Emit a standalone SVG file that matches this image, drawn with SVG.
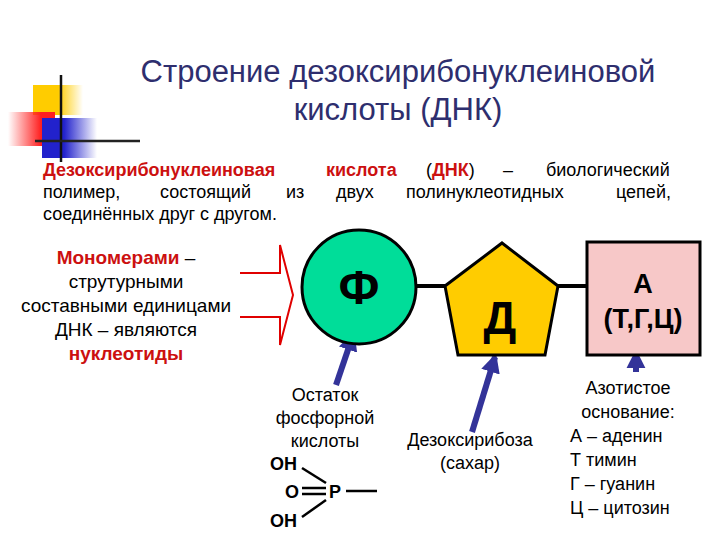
<svg xmlns="http://www.w3.org/2000/svg" width="720" height="540" viewBox="0 0 720 540">
<style>
text{font-family:"Liberation Sans",Arial,sans-serif;fill:#000}
.t{font-size:31px;fill:#2e2e6e}
.p{font-size:18px}
.m{font-size:19px}
.r{fill:#cc1010;font-weight:bold}
.lbl{font-size:18px}
.big{font-weight:bold}
.ln{stroke:#000;stroke-width:4}
.ar{stroke:#333399;stroke-width:6}
</style>
<defs>
<linearGradient id="gy" x1="0" x2="1"><stop offset="0.5" stop-color="#ffcc00"/><stop offset="1" stop-color="#ffcc00" stop-opacity="0"/></linearGradient>
<linearGradient id="gr" x1="1" x2="0"><stop offset="0.3" stop-color="#ff2020"/><stop offset="1" stop-color="#ff2020" stop-opacity="0"/></linearGradient>
<linearGradient id="gb" x1="0" x2="1"><stop offset="0.4" stop-color="#2222cc"/><stop offset="1" stop-color="#2222cc" stop-opacity="0"/></linearGradient>
<marker id="ah" viewBox="0 0 10 10" refX="8" refY="5" markerWidth="3.2" markerHeight="3.2" orient="auto" markerUnits="strokeWidth"><path d="M0,0 L10,5 L0,10 z" fill="#333399"/></marker>
</defs>
<g id="deco">
<rect x="33" y="85" width="50" height="30" fill="url(#gy)"/>
<rect x="8" y="112" width="47" height="34" fill="url(#gr)"/>
<rect x="42" y="118" width="55" height="40" fill="url(#gb)"/>
<line x1="61" y1="75" x2="61" y2="162" stroke="#111" stroke-width="2.5"/>
<line x1="35" y1="141" x2="140" y2="141" stroke="#222" stroke-width="2.5"/>
</g>
<g id="title">
<text class="t" x="398" y="82" text-anchor="middle">Строение дезоксирибонуклеиновой</text>
<text class="t" x="398" y="120" text-anchor="middle">кислоты (ДНК)</text>
</g>
<g id="para" class="p">
<text x="43" y="176"><tspan class="r">Дезоксирибонуклеиновая</tspan><tspan x="326" class="r">кислота</tspan><tspan x="426">(</tspan><tspan class="r">ДНК</tspan><tspan>)</tspan><tspan x="503">–</tspan><tspan x="546">биологический</tspan></text>
<text x="43" y="198">полимер,<tspan x="160">состоящий</tspan><tspan x="286">из</tspan><tspan x="336">двух</tspan><tspan x="406">полинуклеотидных</tspan><tspan x="616">цепей,</tspan></text>
<text x="43" y="220">соединённых друг с другом.</text>
</g>
<g id="monomers" class="m" text-anchor="middle">
<text x="126" y="264"><tspan class="r">Мономерами</tspan> –</text>
<text x="126" y="288">струтурными</text>
<text x="126" y="312">составными единицами</text>
<text x="126" y="336">ДНК – являются</text>
<text x="126" y="360" class="r">нуклеотиды</text>
</g>
<g id="bigarrow">
<path d="M240,273 H280 V245 L293,295 L280,345 V317 H240" fill="#fff" stroke="#e00000" stroke-width="2"/>
</g>
<g id="connectors">
<line class="ln" x1="414" y1="286" x2="447" y2="286"/>
<line class="ln" x1="556" y1="286" x2="589" y2="286"/>
<line class="ar" x1="336" y1="385" x2="353" y2="335" marker-end="url(#ah)"/>
<line class="ar" x1="472" y1="432" x2="495" y2="357" marker-end="url(#ah)"/>
<line class="ar" x1="636" y1="372" x2="636" y2="353" marker-end="url(#ah)"/>
</g>
<g id="phosphate">
<circle cx="359" cy="287" r="57" fill="#00dd99" stroke="#000" stroke-width="3"/>
<text x="359" y="304" font-size="48" class="big" text-anchor="middle">Ф</text>
</g>
<g id="sugar">
<polygon points="502,243 558,286 545,355 458,355 445,286" fill="#ffcc00" stroke="#000" stroke-width="3"/>
<text x="500" y="334" font-size="46" class="big" text-anchor="middle">Д</text>
</g>
<g id="base">
<rect x="587" y="242" width="113" height="113" fill="#f7c8c8" stroke="#000" stroke-width="3"/>
<text x="643" y="293" font-size="27" class="big" text-anchor="middle">А</text>
<text x="643" y="328" font-size="27" class="big" text-anchor="middle">(Т,Г,Ц)</text>
</g>
<g id="labels" class="lbl">
<text x="325" y="401" text-anchor="middle">Остаток</text>
<text x="325" y="424" text-anchor="middle">фосфорной</text>
<text x="325" y="447" text-anchor="middle">кислоты</text>
<text x="470" y="446" text-anchor="middle">Дезоксирибоза</text>
<text x="470" y="469" text-anchor="middle">(сахар)</text>
<text x="628" y="394" text-anchor="middle">Азотистое</text>
<text x="628" y="418" text-anchor="middle">основание:</text>
<text x="570" y="442">А – аденин</text>
<text x="570" y="466">Т тимин</text>
<text x="570" y="490">Г – гуанин</text>
<text x="570" y="514">Ц – цитозин</text>
</g>
<g id="formula" font-size="18" font-weight="bold">
<text x="270" y="470">ОН</text>
<text x="285" y="498">О</text>
<text x="329" y="498">Р</text>
<text x="270" y="527">ОН</text>
<line x1="302" y1="468" x2="326" y2="483" stroke="#000" stroke-width="2.5"/>
<line x1="302" y1="488" x2="326" y2="488" stroke="#000" stroke-width="2.5"/>
<line x1="302" y1="494" x2="326" y2="494" stroke="#000" stroke-width="2.5"/>
<line x1="302" y1="517" x2="326" y2="500" stroke="#000" stroke-width="2.5"/>
<line x1="346" y1="491" x2="377" y2="491" stroke="#000" stroke-width="2.5"/>
</g>
</svg>
